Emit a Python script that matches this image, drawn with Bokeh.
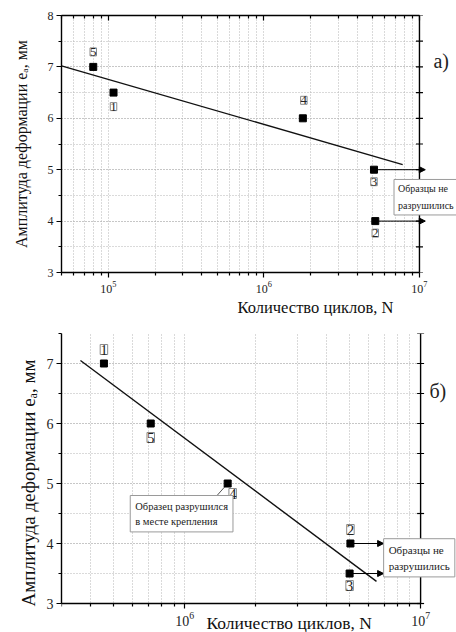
from bokeh.plotting import figure
from bokeh.models import (LinearAxis, SingleIntervalTicker, FixedTicker, LogTickFormatter,
                          BasicTickFormatter, Label, LabelSet, ColumnDataSource, Arrow,
                          NormalHead, Range1d, Title, BoxAnnotation)
from bokeh.core.properties import value
from bokeh.layouts import column
from bokeh.embed import file_html
from bokeh.resources import INLINE

SERIF = "'Liberation Serif', 'Times New Roman', serif"

# ---------------- data: panel а) ----------------
a_cycles = [8.0e4, 1.08e5, 1.78e6, 5.1e6, 5.2e6]
a_amplitude = [7.0, 6.5, 6.0, 5.0, 4.0]
a_specimen = ["5", "1", "4", "3", "2"]
a_fit_cycles = [5.0e4, 7.8e6]
a_fit_amplitude = [7.02, 5.1]
a_runout_cycles = [5.1e6, 5.2e6]
a_runout_amplitude = [5.0, 4.0]
a_decades = [1e4, 1e5, 1e6, 1e7]
a_yticks = [3, 3.5, 4, 4.5, 5, 5.5, 6, 6.5, 7, 7.5, 8]

# ---------------- data: panel б) ----------------
b_cycles = [4.54e5, 7.17e5, 1.52e6, 5.04e6, 5.0e6]
b_amplitude = [7.0, 6.0, 5.0, 4.0, 3.5]
b_specimen = ["1", "5", "4", "2", "3"]
b_fit_cycles = [3.61e5, 6.5e6]
b_fit_amplitude = [7.05, 3.37]
b_runout_cycles = [5.04e6, 5.0e6]
b_runout_amplitude = [4.0, 3.5]
b_decades = [1e5, 1e6, 1e7]
b_yticks = [3, 3.5, 4, 4.5, 5, 5.5, 6, 6.5, 7, 7.5]

y_title = "Амплитуда деформации eₐ, мм"
x_title = "Количество циклов, N"
runout_note = "Образцы не\nразрушились"
grip_note = "Образец разрушился\nв месте крепления"

# ---------------- styles / placements ----------------
a_lbl_dx = [0, 0, 1, 0, 0]
a_lbl_dy = [15, -14, 18, -12, -12]
b_lbl_dx = [0, 0, 5, 0, 0]
b_lbl_dy = [14, -14, -10, 14, -12]

GRID = "#b4b4b4"
X_END = 1e7


def log_ticker(decades):
    minors = [m * d for d in decades for m in range(2, 10)]
    return FixedTicker(ticks=decades, minor_ticks=minors)


def base_panel(width, height, xr, yr, yaxis_lim, mb, decades, yticks, tick_fs, title_fs,
               label_standoff, fixed_x=False):
    p = figure(width=width, height=height, x_axis_type="log",
               x_range=Range1d(*xr), y_range=Range1d(*yr),
               output_backend="svg", toolbar_location=None,
               min_border_left=mb[0], min_border_right=mb[1],
               min_border_top=mb[2], min_border_bottom=mb[3],
               background_fill_color="white", border_fill_color="white")
    p.outline_line_color = None
    xt = log_ticker(decades)
    yt = SingleIntervalTicker(interval=1, num_minor_ticks=2)
    p.xaxis.ticker = xt
    p.xgrid.ticker = xt
    p.xaxis.formatter = LogTickFormatter()
    p.yaxis.ticker = yt
    p.ygrid.ticker = yt
    p.xaxis.bounds = (xr[0], X_END)
    p.xgrid.bounds = (xr[0], X_END)
    p.yaxis.bounds = yaxis_lim
    p.ygrid.bounds = yaxis_lim
    if fixed_x:
        p.xaxis.fixed_location = yaxis_lim[0]
    for ax in (p.xaxis[0], p.yaxis[0]):
        ax.axis_line_width = 1.4
        ax.axis_line_color = "black"
        ax.major_tick_out = 5
        ax.major_tick_in = 0
        ax.minor_tick_out = 3
        ax.minor_tick_in = 0
        ax.major_tick_line_width = 1.2
        ax.minor_tick_line_width = 1.2
        ax.major_label_text_font = SERIF
        ax.major_label_text_font_size = tick_fs
        ax.major_label_text_color = "#222222"
        ax.major_label_standoff = 3
    p.yaxis.axis_label = y_title
    p.yaxis.axis_label_text_font = SERIF
    p.yaxis.axis_label_text_font_size = title_fs
    p.yaxis.axis_label_text_font_style = "normal"
    p.yaxis.axis_label_text_color = "#111111"
    p.yaxis.axis_label_standoff = label_standoff
    for g in (p.xgrid[0], p.ygrid[0]):
        g.grid_line_color = GRID
        g.grid_line_dash = "1 2"
        g.grid_line_width = 1
        g.minor_grid_line_color = GRID
        g.minor_grid_line_dash = "1 2"
        g.minor_grid_line_width = 1
    # blank the grid outside the axes box, then draw the right axis line and ticks
    p.add_layout(BoxAnnotation(left=X_END, fill_color="white", fill_alpha=1,
                               line_color=None, level="underlay"))
    if fixed_x:
        p.add_layout(BoxAnnotation(top=yaxis_lim[0], fill_color="white", fill_alpha=1,
                                   line_color=None, level="underlay"))
    p.line([X_END, X_END], list(yaxis_lim), line_color="black", line_width=1.4)
    p.scatter([X_END] * len(yticks), yticks, marker="dash", size=7,
              line_color="black", line_width=1.2)
    return p


def add_points(p, xs, ys, ids, dx, dy, fs):
    src = ColumnDataSource(dict(x=xs, y=ys, t=ids, dx=dx, dy=dy))
    p.scatter("x", "y", source=src, marker="square", size=7, color="black")
    p.add_layout(LabelSet(x="x", y="y", text="t", source=src, x_offset="dx", y_offset="dy",
                          text_align="center", text_baseline="middle",
                          text_font=value(SERIF), text_font_size=value(fs),
                          text_color="#222222",
                          border_line_color="#8a8a8a", border_line_width=1,
                          background_fill_color="white", background_fill_alpha=0.6))


def add_runouts(p, xs, ys, x_end):
    for x0, y0 in zip(xs, ys):
        p.add_layout(Arrow(end=NormalHead(size=6, fill_color="black", line_color="black"),
                           x_start=x0, y_start=y0, x_end=x_end, y_end=y0,
                           line_width=1, line_color="black"))


def note(p, text, x, y, fs, lh=1.4, pad=5):
    p.add_layout(Label(x=x, y=y, text=text, text_font=SERIF, text_font_size=fs,
                       text_align="left", text_baseline="top", text_color="#222222",
                       text_line_height=lh,
                       border_line_color="#9a9a9a", border_line_width=1,
                       background_fill_color="white", padding=pad))


# ---------------- panel а) ----------------
pa = base_panel(456, 316, (5e4, 1.73e7), (3, 8), (3, 8), (61, 0, 15, 44), a_decades,
                a_yticks, "12px", "16px", 15)
top_axis = LinearAxis(ticker=log_ticker(a_decades), formatter=BasicTickFormatter(),
                      major_label_text_font_size="1px", major_label_text_alpha=0,
                      major_label_standoff=0, major_tick_in=5, major_tick_out=0,
                      minor_tick_in=3, minor_tick_out=0, axis_line_width=1.4,
                      major_tick_line_width=1.2, minor_tick_line_width=1.2,
                      bounds=(5e4, X_END))
pa.add_layout(top_axis, "above")
pa.line(a_fit_cycles, a_fit_amplitude, line_color="#111111", line_width=1.4)
add_runouts(pa, a_runout_cycles, a_runout_amplitude, 1.09e7)
add_points(pa, a_cycles, a_amplitude, a_specimen, a_lbl_dx, a_lbl_dy, "13px")
note(pa, runout_note, 6.86e6, 4.81, "10px", 1.5, 4)
pa.add_layout(Label(x=1.23e7, y=7.12, text="а)", text_font=SERIF, text_font_size="20px",
                    text_baseline="middle", text_align="left", text_color="#222222"))
pa.add_layout(Title(text=x_title, align="left", offset=176, standoff=0,
                    text_font=SERIF, text_font_size="16.5px", text_font_style="normal",
                    text_color="#111111"), "below")

# ---------------- panel б) ----------------
pb = base_panel(456, 316, (3e5, 1.42e7), (2.517, 7.5), (3, 7.5), (52, 0, 17, 0),
                b_decades, b_yticks, "14px", "19px", 5, fixed_x=True)
pb.line(b_fit_cycles, b_fit_amplitude, line_color="#111111", line_width=1.4)
add_runouts(pb, b_runout_cycles, b_runout_amplitude, 6.97e6)
pb.line([1.37e6, 1.52e6], [4.8, 5.0], line_color="#555555", line_width=1)
add_points(pb, b_cycles, b_amplitude, b_specimen, b_lbl_dx, b_lbl_dy, "15px")
note(pb, runout_note, 6.97e6, 4.08, "11px", 1.35, 5)
note(pb, grip_note, 5.87e5, 4.8, "10.5px", 1.4, 5)
pb.add_layout(Label(x=1.09e7, y=6.55, text="б)", text_font=SERIF, text_font_size="20px",
                    text_baseline="middle", text_align="left", text_color="#222222"))
pb.add_layout(Label(x=2.77e6, y=2.667, text=x_title, text_font=SERIF,
                    text_font_size="17.5px", text_baseline="middle", text_align="center",
                    text_color="#111111"))

layout = column(pa, pb, spacing=0)
open("out.html", "w").write(file_html(layout, INLINE))
